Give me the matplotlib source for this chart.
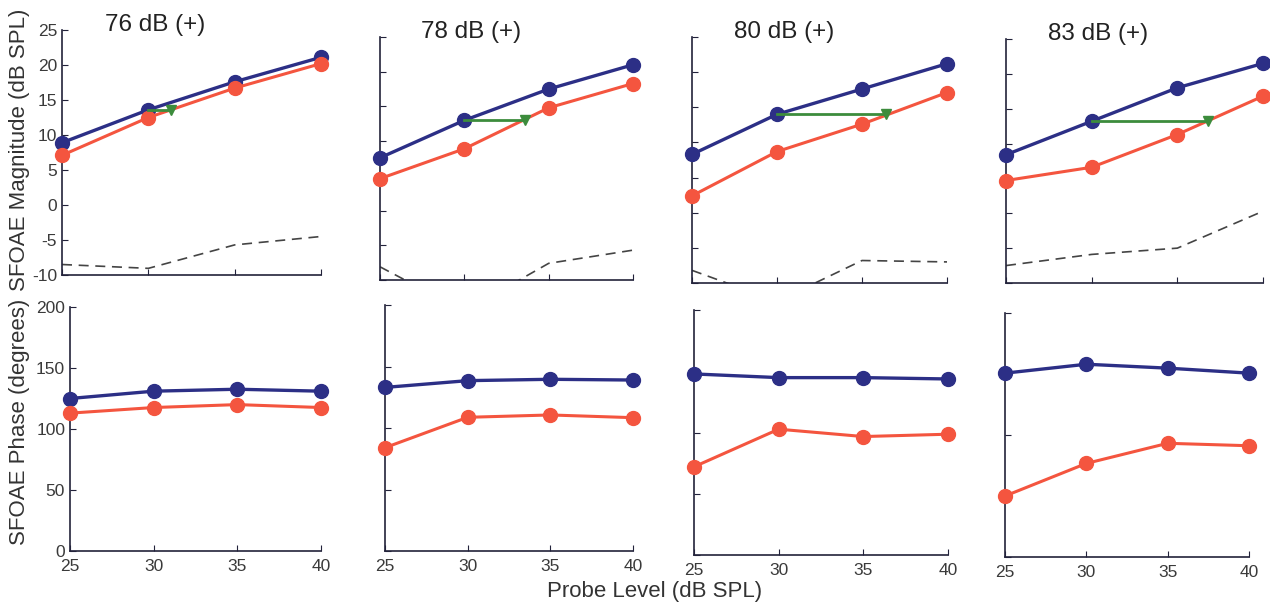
import numpy as np
import matplotlib
matplotlib.use('Agg')
import matplotlib.pyplot as plt

plt.rcParams['font.family'] = ['Liberation Sans', 'DejaVu Sans']
plt.rcParams['axes.unicode_minus'] = False

# Data
probe = [25, 30, 35, 40]
titles = ['76 dB (+)', '78 dB (+)', '80 dB (+)', '83 dB (+)']

mag_blue = [[8.9, 13.6, 17.6, 21.1],
            [7.6, 13.0, 17.5, 21.0],
            [8.3, 14.0, 17.6, 21.2],
            [8.4, 13.2, 18.0, 21.5]]
mag_red = [[7.1, 12.5, 16.7, 20.2],
           [4.6, 8.9, 14.8, 18.3],
           [2.4, 8.7, 12.6, 17.1],
           [4.7, 6.6, 11.3, 16.8]]
noise = [[-8.5, -9.05, -5.7, -4.5],
         [-8.1, -14.5, -7.6, -5.7],
         [-8.2, -12.6, -6.8, -7.0],
         [-7.5, -5.9, -5.0, 0.3]]
# green arrow: from blue value at 30 dB across to this probe level
arrow_end = [31.3, 33.6, 36.4, 36.8]

phase_blue = [[125, 131, 132.6, 131],
              [133, 138.5, 139.6, 139],
              [147.8, 144.8, 144.8, 143.7],
              [150.7, 158, 154.8, 150.7]]
phase_red = [[113, 117.6, 120, 117.6],
             [84, 108.7, 110.6, 108.4],
             [72, 102.7, 96.7, 98.6],
             [50, 76.7, 93.2, 91.2]]

BLUE = '#2c2f86'
RED = '#f4553f'
GREEN = '#3c8c3c'
AXC = '#22223a'

W, H = 1270, 606
fig = plt.figure(figsize=(12.7, 6.06), dpi=100)

# axes boxes in pixels: x0, x1, ytop, ybottom
top_boxes = [(62, 321, 30, 275), (380, 633, 37, 280), (692, 947, 37, 283), (1006, 1263, 39, 283)]
bot_boxes = [(70, 321, 307, 551), (385, 633, 305, 551), (694, 948, 310, 555), (1005, 1249, 313, 557)]


def make_ax(box):
    x0, x1, yt, yb = box
    ax = fig.add_axes([x0 / W, 1 - yb / H, (x1 - x0) / W, (yb - yt) / H])
    for s in ['top', 'right']:
        ax.spines[s].set_visible(False)
    for s in ['left', 'bottom']:
        ax.spines[s].set_color(AXC)
        ax.spines[s].set_linewidth(1.2)
    ax.tick_params(direction='in', length=4, colors=AXC, labelcolor='#3a3a3a', labelsize=12.5)
    ax.set_xlim(25, 40)
    ax.set_xticks(probe)
    ax.set_facecolor('none')
    return ax


for i in range(4):
    # magnitude
    ax = make_ax(top_boxes[i])
    ax.set_ylim(-10, 25)
    ax.set_yticks(np.arange(-10, 26, 5))
    ax.set_xticklabels([])
    if i > 0:
        ax.set_yticklabels([])
    ax.plot(probe, noise[i], '--', color='#444444', lw=1.2, dashes=(6, 4))
    ax.plot(probe, mag_blue[i], '-o', color=BLUE, lw=2.4, ms=10, clip_on=False, zorder=3)
    ax.plot(probe, mag_red[i], '-o', color=RED, lw=2.2, ms=10, clip_on=False, zorder=4)
    ax.plot([30, arrow_end[i]], [mag_blue[i][1], mag_blue[i][1]], '-', color=GREEN, lw=2, zorder=5)
    ax.plot([arrow_end[i]], [mag_blue[i][1]], 'v', color=GREEN, ms=7, zorder=5)
    ax.text(0.36, 0.995, titles[i], transform=ax.transAxes, ha='center', va='baseline',
            fontsize=17.5, color='#222222')
    if i == 0:
        ax.set_ylabel('SFOAE Magnitude (dB SPL)', fontsize=16, color='#333333')
        ax.yaxis.set_label_coords(-0.122, 0.51)

    # phase
    ax = make_ax(bot_boxes[i])
    ax.set_ylim(0, 200)
    ax.set_yticks(np.arange(0, 201, 50))
    if i > 0:
        ax.set_yticklabels([])
    ax.plot(probe, phase_blue[i], '-o', color=BLUE, lw=2.4, ms=10, clip_on=False, zorder=3)
    ax.plot(probe, phase_red[i], '-o', color=RED, lw=2.2, ms=10, clip_on=False, zorder=4)
    ax.tick_params(axis='x', pad=6)
    if i == 0:
        ax.set_ylabel('SFOAE Phase (degrees)', fontsize=16, color='#333333')
        ax.yaxis.set_label_coords(-0.158, 0.53)

fig.text(655 / W, 1 - 592 / H, 'Probe Level (dB SPL)', ha='center', va='center',
         fontsize=16, color='#333333')

fig.savefig('out.png', dpi=100, facecolor='white')
